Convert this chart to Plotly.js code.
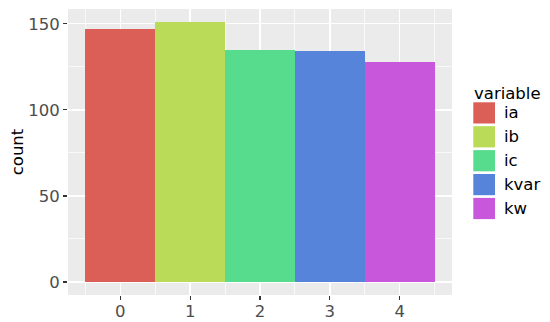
<!DOCTYPE html>
<html>
<head>
<meta charset="utf-8">
<script src="https://cdn.plot.ly/plotly-3.0.1.min.js"></script>
<style>html,body{margin:0;padding:0;background:#fff;}#chart{width:550px;height:322px;}</style>
</head>
<body>
<div id="chart"></div>
<script>
// Data
const categories = ['ia', 'ib', 'ic', 'kvar', 'kw'];
const xPositions = [0, 1, 2, 3, 4];
const counts = [147, 151, 135, 134, 128];
const colors = ['#DB5F57', '#B9DB57', '#57DB8C', '#5784DB', '#C957DB'];
const xTickVals = [0, 1, 2, 3, 4];
const xTickText = ['0', '1', '2', '3', '4'];
const yTickVals = [0, 50, 100, 150];
const yTickText = ['0', '50', '100', '150'];
const legendTitle = 'variable';

const W = 550, H = 322;
const M = {l: 68, r: 98, t: 9, b: 27};
const pw = W - M.l - M.r, ph = H - M.t - M.b;
const px = x => (x - M.l) / pw;
const py = y => (H - M.b - y) / ph;

const FONT = 'DejaVu Sans, sans-serif';

const traces = categories.map((c, i) => ({
  type: 'bar',
  x: [xPositions[i]],
  y: [counts[i]],
  width: 1,
  name: c,
  marker: {color: colors[i], line: {width: 0}},
  showlegend: false,
  hoverinfo: 'x+y+name'
}));

const maxY = Math.max(...counts);
const shapes = [];
const annotations = [];
annotations.push({
  xref: 'paper', yref: 'paper', x: px(472), y: py(93),
  xanchor: 'left', yanchor: 'middle', showarrow: false,
  text: legendTitle, font: {family: FONT, size: 16.5, color: '#000'}
});
categories.forEach((c, i) => {
  const top = 102.3 + i * 23.9, bot = top + 21.2;
  shapes.push({
    type: 'rect', xref: 'paper', yref: 'paper',
    x0: px(473.3), x1: px(495), y0: py(bot), y1: py(top),
    fillcolor: colors[i], line: {width: 0}
  });
  annotations.push({
    xref: 'paper', yref: 'paper', x: px(502), y: py((top + bot) / 2),
    xanchor: 'left', yanchor: 'middle', showarrow: false,
    text: c, font: {family: FONT, size: 16.5, color: '#000'}
  });
});

const layout = {
  width: W, height: H,
  margin: M,
  paper_bgcolor: '#ffffff',
  plot_bgcolor: '#EBEBEB',
  showlegend: false,
  bargap: 0,
  font: {family: FONT},
  xaxis: {
    range: [-0.75, 4.75],
    tickmode: 'array', tickvals: xTickVals, ticktext: xTickText,
    showgrid: true, gridcolor: '#ffffff', gridwidth: 1.4,
    zeroline: false, showline: false,
    ticks: 'outside', ticklen: 4, tickwidth: 1.2, tickcolor: '#333333',
    ticklabelstandoff: -3,
    tickfont: {family: FONT, size: 16.5, color: '#4D4D4D'},
    minor: {tickmode: 'array', tickvals: [-0.5, 0.5, 1.5, 2.5, 3.5, 4.5], showgrid: true, gridcolor: '#ffffff', gridwidth: 0.7, ticks: ''},
    automargin: false,
    fixedrange: true
  },
  yaxis: {
    range: [-0.05 * maxY, 1.05 * maxY],
    tickmode: 'array', tickvals: yTickVals, ticktext: yTickText,
    showgrid: true, gridcolor: '#ffffff', gridwidth: 1.4,
    zeroline: false, showline: false,
    ticks: 'outside', ticklen: 4, tickwidth: 1.2, tickcolor: '#333333',
    tickfont: {family: FONT, size: 16.5, color: '#4D4D4D'},
    minor: {tickmode: 'array', tickvals: [25, 75, 125], showgrid: true, gridcolor: '#ffffff', gridwidth: 0.7, ticks: ''},
    title: {text: 'count', font: {family: FONT, size: 16.5, color: '#000'}, standoff: 0},
    automargin: false,
    fixedrange: true
  },
  shapes: shapes,
  annotations: annotations
};

Plotly.newPlot('chart', traces, layout, {displayModeBar: false, staticPlot: true});
</script>
</body>
</html>
